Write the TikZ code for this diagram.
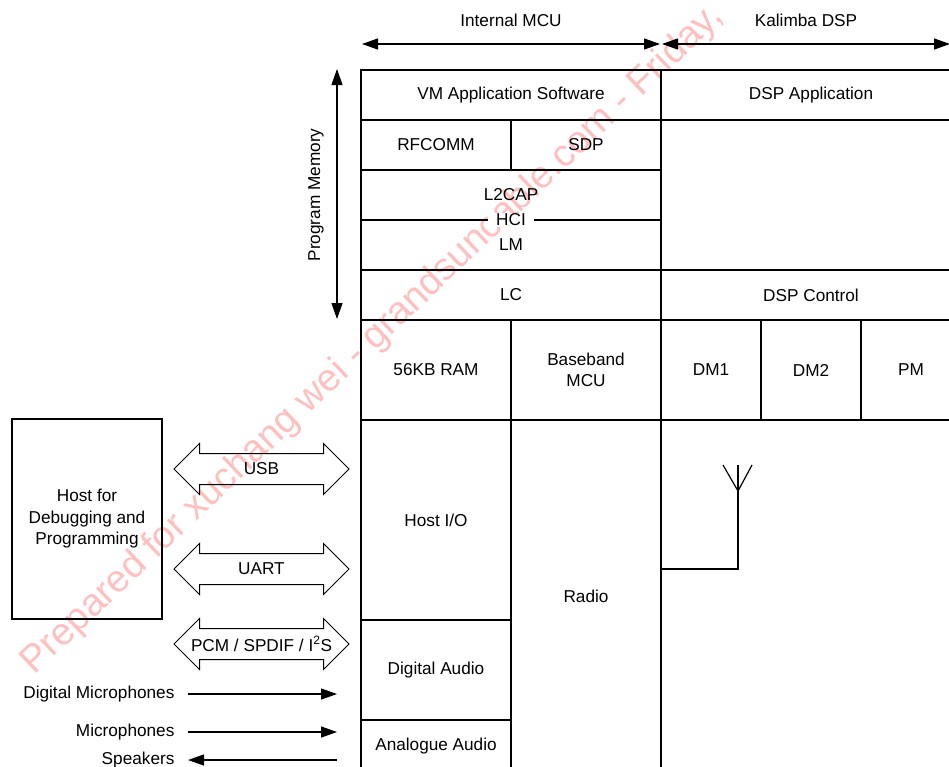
\documentclass[tikz,border=0pt]{standalone}
\usepackage{fontspec}
\setmainfont{Liberation Sans}
\usetikzlibrary{shapes.arrows,arrows.meta}

\begin{document}
\begin{tikzpicture}[x=1pt, y=-1pt, line width=1.2pt,
    every node/.style={font=\fontsize{17.2}{21.5}\selectfont},
    cell/.style={draw, rectangle, inner sep=0pt, align=center},
    fatarrow/.style={draw, double arrow, double arrow head extend=10pt,
        double arrow tip angle=90, minimum height=175pt, inner xsep=0pt,
        inner ysep=15pt, line width=1pt},
    sig/.style={-{Triangle[length=16pt,width=11pt]}},
    both/.style={{Triangle[length=16pt,width=11pt]}-{Triangle[length=16pt,width=11pt]}}]
    \useasboundingbox (0,0) rectangle (949,766);
    \clip (0,0) rectangle (949,766);

    % Watermark
    \node[anchor=base west, rotate=43.6, text=red!25, inner sep=0pt,
        font=\fontsize{38.3}{38}\selectfont] (wmark) at (34,676)
        {Prepared for xuchang wei - grandsuncable.com - Friday,};

    % Internal MCU column
    \node[cell, minimum width=300pt, minimum height=50pt] (vmapp) at (511,95) {VM Application Software};
    \node[cell, minimum width=150pt, minimum height=50pt] (rfcomm) at (436,145) {RFCOMM};
    \node[cell, minimum width=150pt, minimum height=50pt] (sdp) at (586,145) {SDP};
    \node[cell, minimum width=300pt, minimum height=50pt] (l2cap) at (511,195) {L2CAP};
    \node[cell, minimum width=300pt, minimum height=50pt] (lm) at (511,245) {LM};
    \node[fill=white, inner xsep=8pt, inner ysep=1pt] (hci) at (511,220) {HCI};
    \node[cell, minimum width=300pt, minimum height=50pt] (lc) at (511,295) {LC};
    \node[cell, minimum width=150pt, minimum height=100pt] (ram) at (436,370) {56KB RAM};
    \node[cell, minimum width=150pt, minimum height=100pt] (bbmcu) at (586,370) {Baseband\\MCU};
    \node[cell, minimum width=150pt, minimum height=200pt] (hostio) at (436,520) {Host I/O};
    \node[cell, minimum width=150pt, minimum height=100pt] (daudio) at (436,670) {Digital Audio};
    \node[cell, minimum width=150pt, minimum height=52pt] (aaudio) at (436,746) {Analogue Audio};
    \node[cell, minimum width=150pt, minimum height=352pt] (radio) at (586,596) {Radio};

    % Kalimba DSP column
    \node[cell, minimum width=300pt, minimum height=50pt] (dspapp) at (811,95) {DSP Application};
    \node[cell, minimum width=300pt, minimum height=150pt] (dspmem) at (811,195) {};
    \node[cell, minimum width=300pt, minimum height=50pt] (dspctl) at (811,295) {DSP Control};
    \node[cell, minimum width=100pt, minimum height=100pt] (dm1) at (711,370) {DM1};
    \node[cell, minimum width=100pt, minimum height=100pt] (dm2) at (811,370) {DM2};
    \node[cell, minimum width=100pt, minimum height=100pt] (pm) at (911,370) {PM};
    \node[cell, minimum width=300pt, minimum height=352pt] (rfpart) at (811,596) {};

    % Antenna
    \draw (rfpart.west |- 0,569) -- (738,569) -- (738,465);
    \draw (723,465) -- (738,491) -- (752,465);

    % Top and side extents
    \node[anchor=base] (mculbl) at (511,26) {Internal MCU};
    \node[anchor=base] (dsplbl) at (806,26) {Kalimba DSP};
    \coordinate (mcuL) at (362,44);
    \coordinate (mcuR) at (660,44);
    \coordinate (dspL) at (662,44);
    \coordinate (dspR) at (950,44);
    \draw[both] (mcuL) -- (mcuR);
    \draw[both] (dspL) -- (dspR);
    \node[anchor=base, rotate=90] (pmlbl) at (320,195) {Program Memory};
    \coordinate (pmtop) at (337,69);
    \coordinate (pmbot) at (337,319);
    \draw[both] (pmtop) -- (pmbot);

    % Host and interfaces
    \node[cell, minimum width=150pt, minimum height=200pt] (host) at (87,519) {Host for\\Debugging and\\Programming};
    \node[fatarrow, label=center:USB] (usb) at (261.5,469) {};
    \node[fatarrow, label=center:UART] (uart) at (261.5,569) {};
    \node[fatarrow, label=center:PCM / SPDIF / I\textsuperscript{2}S] (pcm) at (261.5,644) {};

    \node[anchor=east, inner sep=0pt] (dmic) at (175,694) {Digital Microphones};
    \node[anchor=east, inner sep=0pt] (mic) at (175,732) {Microphones};
    \node[anchor=east, inner sep=0pt] (spk) at (175,760) {Speakers};
    \coordinate (dmicin) at (337,694);
    \coordinate (micin) at (337,732);
    \coordinate (spkout) at (337,760);
    \draw[sig, shorten <=13pt] (dmic.east) -- (dmicin);
    \draw[sig, shorten <=13pt] (mic.east) -- (micin);
    \draw[sig, shorten >=13pt] (spkout) -- (spk.east);
\end{tikzpicture}
\end{document}
